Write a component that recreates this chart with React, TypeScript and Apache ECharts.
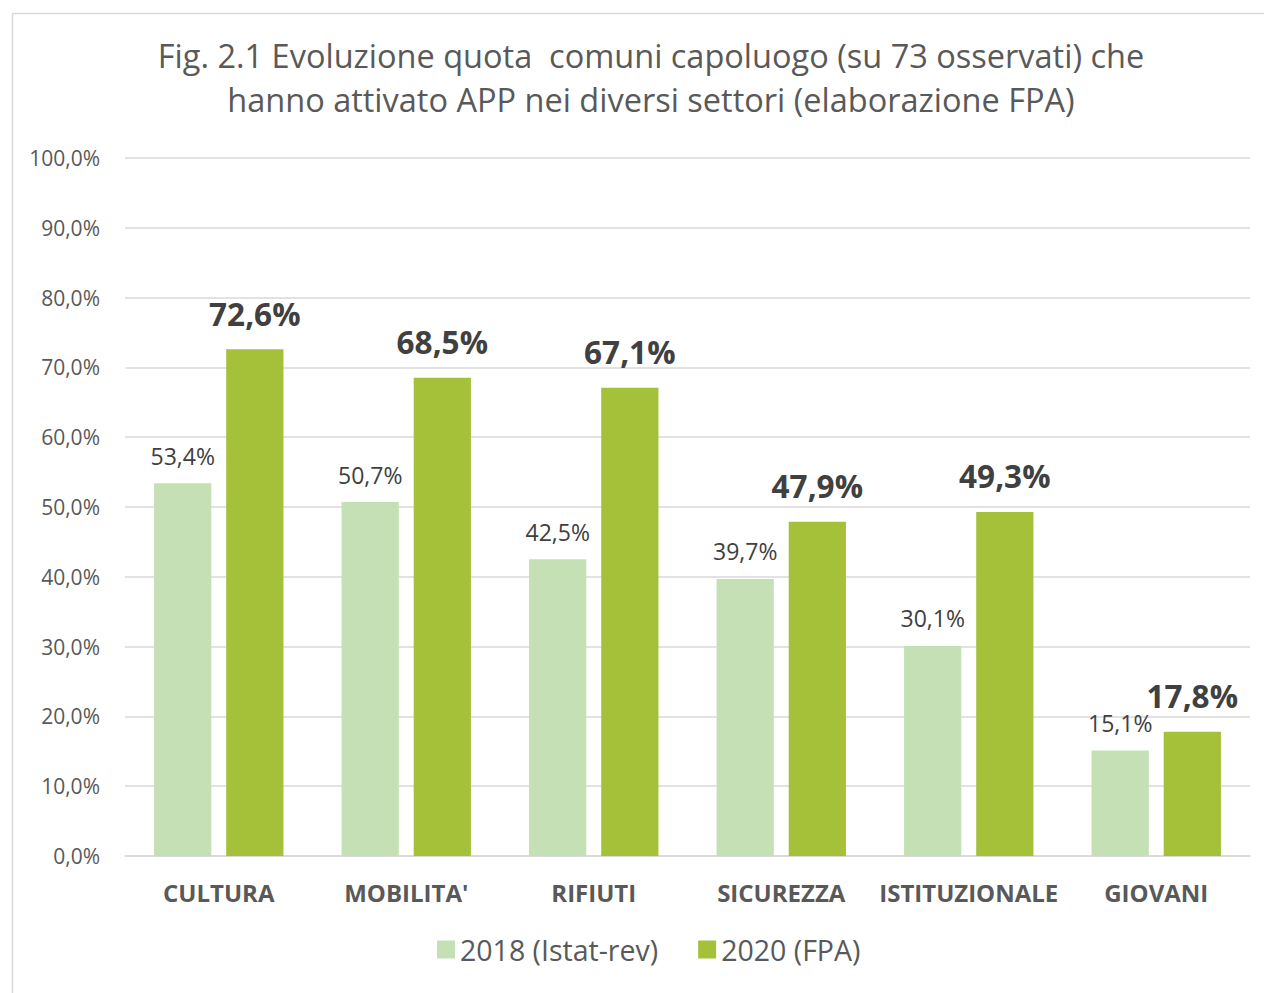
import React, { useEffect, useRef } from "react";
import * as echarts from "echarts";

const titleLines = [
  "Fig. 2.1 Evoluzione quota  comuni capoluogo (su 73 osservati) che",
  "hanno attivato APP nei diversi settori (elaborazione FPA)",
];
const categories = ["CULTURA", "MOBILITA'", "RIFIUTI", "SICUREZZA", "ISTITUZIONALE", "GIOVANI"];
const series2018 = [53.4, 50.7, 42.5, 39.7, 30.1, 15.1];
const series2020 = [72.6, 68.5, 67.1, 47.9, 49.3, 17.8];
const seriesNames = ["2018 (Istat-rev)", "2020 (FPA)"];

const FONT = "'Open Sans', 'Noto Sans', sans-serif";
const fmt = (v: number) => v.toFixed(1).replace(".", ",") + "%";

export default function App() {
  const ref = useRef<HTMLDivElement>(null);
  useEffect(() => {
    if (!ref.current) return;
    const chart = echarts.init(ref.current, null, { renderer: "svg" });
    chart.setOption({
      animation: false,
      backgroundColor: "#ffffff",
      textStyle: { fontFamily: FONT },
      title: {
        text: titleLines.join("\n"),
        left: 646,
        textAlign: "center",
        top: 28,
        textStyle: { fontSize: 32.5, fontWeight: "normal", color: "#595959", lineHeight: 44, fontFamily: FONT },
      },
      graphic: [
        {
          type: "rect",
          shape: { x: 12.5, y: 13.5, width: 1400, height: 1200 },
          style: { fill: "none", stroke: "#d9d9d9", lineWidth: 1.5 },
          silent: true,
        },
      ],
      legend: {
        bottom: 24,
        left: 432,
        itemWidth: 18,
        itemHeight: 18,
        itemGap: 40,
        icon: "rect",
        textStyle: { fontSize: 28.5, color: "#595959", fontFamily: FONT },
        data: seriesNames,
      },
      grid: { left: 125, right: 14, top: 158, bottom: 137, containLabel: false },
      xAxis: {
        type: "category",
        data: categories,
        axisLine: { lineStyle: { color: "#d9d9d9", width: 1.5 } },
        axisTick: { show: false },
        axisLabel: { interval: 0, fontSize: 24, fontWeight: "bold", color: "#595959", margin: 24, fontFamily: FONT },
      },
      yAxis: {
        type: "value",
        min: 0,
        max: 100,
        interval: 10,
        axisLine: { show: false },
        axisTick: { show: false },
        splitLine: { lineStyle: { color: "#d9d9d9", width: 1.5 } },
        axisLabel: { fontSize: 21, color: "#595959", margin: 25, formatter: (v: number) => fmt(v), fontFamily: FONT },
      },
      series: [
        {
          name: seriesNames[0],
          type: "bar",
          data: series2018,
          barGap: "26%",
          barCategoryGap: "31%",
          itemStyle: { color: "#c5e0b4" },
          label: {
            show: true,
            position: "top",
            distance: 16,
            fontSize: 23,
            color: "#404040",
            formatter: (p: any) => fmt(p.value),
            fontFamily: FONT,
          },
        },
        {
          name: seriesNames[1],
          type: "bar",
          data: series2020,
          barGap: "26%",
          barCategoryGap: "31%",
          itemStyle: { color: "#a5c13a" },
          label: {
            show: true,
            position: "top",
            distance: 20,
            fontSize: 31.5,
            fontWeight: "bold",
            color: "#404040",
            formatter: (p: any) => fmt(p.value),
            fontFamily: FONT,
          },
        },
      ],
    });
    return () => chart.dispose();
  }, []);
  return <div ref={ref} style={{ position: "fixed", left: 0, top: 0, width: 1264, height: 993 }} />;
}
